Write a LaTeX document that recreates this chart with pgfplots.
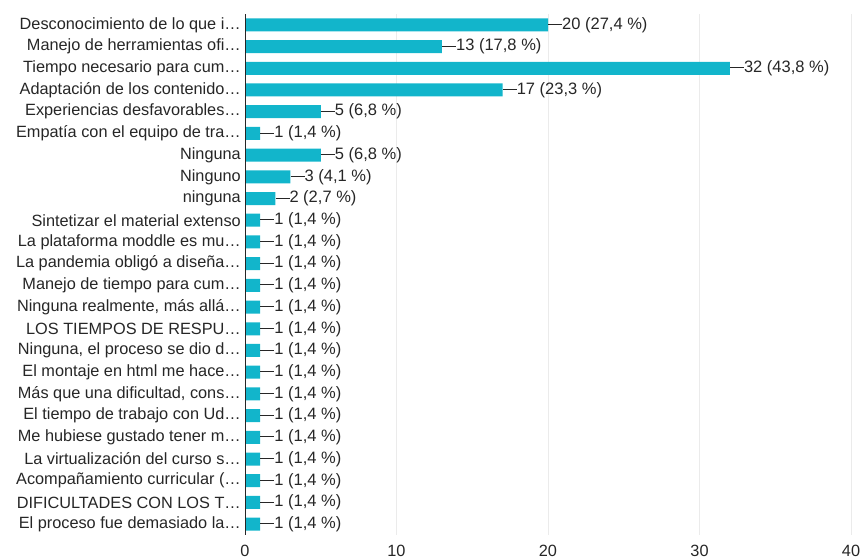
\documentclass[border=0pt]{standalone}
\usepackage{fontspec}
\setmainfont{Liberation Sans}
\usepackage{pgfplots}
\pgfplotsset{compat=1.18}
\definecolor{barc}{HTML}{12B5CB}
\definecolor{txt}{HTML}{262626}
\definecolor{grd}{HTML}{EBEBEB}
\begin{document}
\begin{tikzpicture}
\begin{axis}[
  at={(245bp,25bp)}, anchor=south west,
  scale only axis, width=606bp, height=521bp,
  xmin=0, xmax=40, ymin=-0.5, ymax=23.5, y dir=reverse,
  xtick={0,10,20,30,40}, ytick={0,...,23},
  yticklabels={Desconocimiento de lo que i…,Manejo de herramientas ofi…,Tiempo necesario para cum…,Adaptación de los contenido…,Experiencias desfavorables…,Empatía con el equipo de tra…,Ninguna,Ninguno,ninguna,Sintetizar el material extenso,La plataforma moddle es mu…,La pandemia obligó a diseña…,Manejo de tiempo para cum…,{Ninguna realmente, más allá…},LOS TIEMPOS DE RESPU…,{Ninguna, el proceso se dio d…},El montaje en html me hace…,{Más que una dificultad, cons…},El tiempo de trabajo con Ud…,Me hubiese gustado tener m…,La virtualización del curso s…,Acompañamiento curricular (…,DIFICULTADES CON LOS T…,El proceso fue demasiado la…},
  xmajorgrids, grid style={grd, line width=0.8bp},
  major tick length=0,
  axis line style={draw=none},
  ticklabel style={font=\fontsize{16.3bp}{18bp}\selectfont, text=txt},
  yticklabel style={inner sep=0pt, xshift=-4bp},
  xticklabel style={yshift=-7bp},
  /pgf/number format/assume math mode=true,
  xbar, bar width=13bp,
  point meta=explicit symbolic,
  visualization depends on={rawx \as \rawx},
  nodes near coords={\rule[0.27em]{14bp}{0.7bp}\pgfmathprintnumber{\rawx} (\pgfplotspointmeta~\%)},
  nodes near coords style={anchor=west, inner sep=0pt, font=\fontsize{16.5bp}{18bp}\selectfont, text=txt},
]
\addplot[fill=barc, draw=none] table[x=v, y=i, meta=p] {
i v p
0 20 27,4
1 13 17,8
2 32 43,8
3 17 23,3
4 5 6,8
5 1 1,4
6 5 6,8
7 3 4,1
8 2 2,7
9 1 1,4
10 1 1,4
11 1 1,4
12 1 1,4
13 1 1,4
14 1 1,4
15 1 1,4
16 1 1,4
17 1 1,4
18 1 1,4
19 1 1,4
20 1 1,4
21 1 1,4
22 1 1,4
23 1 1,4
};
\draw[txt, line width=0.8bp] (axis cs:0,-0.5) -- (axis cs:0,23.5);
\end{axis}
\pgfresetboundingbox
\useasboundingbox (0,0) rectangle (862bp,560bp);
\end{tikzpicture}
\end{document}
